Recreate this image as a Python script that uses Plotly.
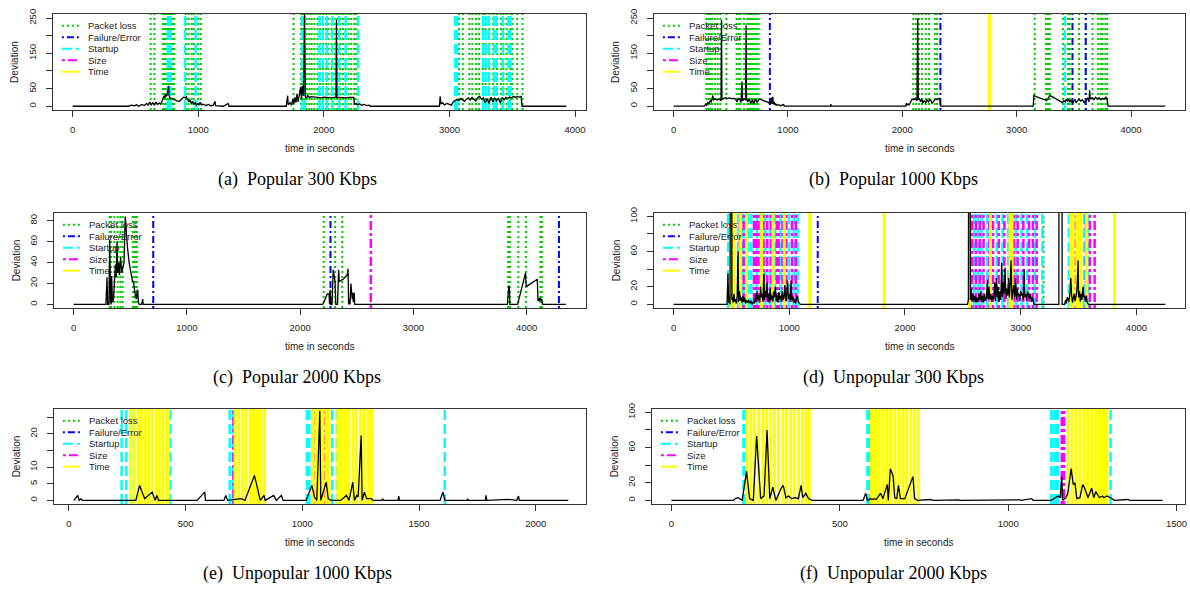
import plotly.graph_objects as go

W, H = 1190, 591

# ---------------- data ----------------
legend_labels = ["Packet loss", "Failure/Error", "Startup", "Size", "Time"]
captions = ["(a)\u00a0 Popular 300 Kbps", "(b)\u00a0 Popular 1000 Kbps", "(c)\u00a0 Popular 2000 Kbps",
            "(d)\u00a0 Unpopular 300 Kbps", "(e)\u00a0 Unpopular 1000 Kbps", "(f)\u00a0 Unpopular 2000 Kbps"]

# (a) Popular 300 Kbps
a_series = [(0,0),(300,0),(320,2),(330,0),(360,1),(380,0),(420,2),(440,0),(470,3),(490,1),(510,4),(525,0),(550,5),(570,2),
            (590,8),(600,3),(615,12),(625,4),(640,10),(650,3),(665,12),(675,5),(690,9),(700,6),(712,14),(720,22),(728,30),
            (735,24),(742,35),(750,28),(758,40),(764,58),(768,30),(775,24),(790,22),(810,18),(830,15),(850,14),(870,20),
            (885,26),(895,24),(905,27),(915,20),(925,12),(935,18),(945,8),(955,14),(965,5),(975,10),(985,4),(995,8),
            (1005,3),(1015,11),(1025,4),(1040,6),(1060,2),(1080,5),(1100,1),(1120,3),(1133,14),(1138,2),(1160,1),(1200,0),
            (1238,8),(1244,0),(1700,0),(1712,30),(1716,4),(1730,10),(1742,3),(1752,20),(1760,6),(1770,25),(1778,10),
            (1786,35),(1795,12),(1805,40),(1815,55),(1822,20),(1830,58),(1838,30),(1846,265),(1852,28),(1860,22),
            (1872,30),(1885,25),(1900,27),(1920,26),(1940,25),(1960,26),(1980,24),(2000,26),(2020,25),(2040,26),
            (2060,24),(2080,25),(2096,26),(2100,245),(2104,24),(2120,25),(2140,24),(2160,25),(2180,24),(2200,25),
            (2220,24),(2238,25),(2244,5),(2255,8),(2270,4),(2285,7),(2300,3),(2320,5),(2340,2),(2360,3),(2370,0),
            (2920,0),(2926,28),(2932,6),(2945,10),(2960,4),(2980,8),(3000,6),(3015,3),(3030,12),(3045,15),(3060,20),
            (3075,16),(3090,22),(3105,18),(3120,14),(3135,20),(3150,24),(3165,18),(3180,25),(3195,20),(3210,15),
            (3225,25),(3240,28),(3255,20),(3270,24),(3285,10),(3300,22),(3315,8),(3330,26),(3345,12),(3360,24),
            (3375,15),(3390,22),(3405,10),(3420,25),(3435,18),(3450,25),(3465,22),(3480,26),(3495,24),(3510,28),
            (3525,25),(3540,27),(3555,26),(3570,28),(3578,0),(3930,0)]
a_packet_loss = [621, 652, 718, 726, 733, 741, 748, 756, 764, 771, 779, 787, 794, 802, 809, 903, 924, 948, 964, 1000,
                 1021, 1758, 1818, 1833, 1848, 1864, 1885, 1903, 1924, 1948, 1970, 1994, 2018, 2036, 2061, 2085, 2106,
                 2130, 2152, 2173, 2197, 2218, 2242, 2258, 3076, 3106, 3158, 3182, 3212, 3236, 3267, 3288, 3318, 3348,
                 3379, 3409, 3430, 3455, 3485, 3500, 3539, 3582]
a_failure = []
a_startup = [758, 779, 894, 979, 1827, 1848, 1964, 1991, 2024, 2067, 2121, 2173, 2273, 3045, 3061, 3267, 3288, 3312,
             3355, 3373, 3424, 3470, 3485]
a_size = []
a_time = []

# (b) Popular 1000 Kbps
b_series = [(0,0),(270,0),(280,5),(290,2),(300,10),(310,6),(320,15),(330,12),(343,30),(350,18),(365,20),(380,17),
            (400,20),(415,15),(419,245),(423,18),(440,22),(455,24),(470,22),(490,23),(510,21),(530,22),(545,18),
            (555,12),(565,22),(580,18),(590,10),(598,70),(603,15),(615,20),(630,18),(634,230),(638,20),(650,12),
            (660,20),(675,8),(690,18),(700,6),(715,20),(730,10),(745,18),(760,20),(775,17),(790,15),(805,13),
            (820,11),(832,10),(840,5),(845,12),(850,8),(855,24),(860,6),(868,26),(873,5),(880,12),(888,3),(895,6),
            (905,2),(920,4),(935,1),(950,2),(962,4),(968,0),(1370,0),(1376,5),(1380,0),(2030,0),(2036,8),(2040,2),
            (2050,6),(2060,3),(2075,15),(2086,20),(2100,18),(2115,22),(2128,15),(2135,250),(2140,18),(2150,22),
            (2160,12),(2170,20),(2180,8),(2190,15),(2205,10),(2215,18),(2230,12),(2245,20),(2260,8),(2275,15),
            (2290,20),(2305,18),(2320,22),(2330,20),(2334,0),(3145,0),(3150,30),(3170,27),(3190,24),(3210,22),
            (3230,20),(3250,18),(3260,15),(3275,22),(3290,30),(3310,27),(3330,23),(3350,20),(3370,17),(3385,14),
            (3400,10),(3410,15),(3425,12),(3435,20),(3445,14),(3455,18),(3465,12),(3475,16),(3490,8),(3500,14),
            (3510,18),(3520,10),(3530,15),(3545,20),(3560,14),(3575,18),(3590,10),(3605,18),(3620,22),(3632,12),
            (3638,45),(3644,20),(3660,24),(3675,18),(3690,25),(3705,20),(3720,24),(3735,18),(3750,22),(3765,20),
            (3780,25),(3790,22),(3798,0),(4300,0)]
b_packet_loss = [287, 304, 320, 337, 363, 386, 409, 462, 551, 568, 584, 617, 644, 660, 677, 693, 710, 726, 743, 2096,
                 2119, 2145, 2172, 2205, 2234, 2284, 2304, 3158, 3257, 3274, 3290, 3406, 3449, 3465, 3545, 3604, 3663,
                 3713, 3736, 3752, 3776, 3792]
b_failure = [842, 2333, 3488, 3604]
b_startup = [3422]
b_size = []
b_time = [2762]

# (c) Popular 2000 Kbps
c_series = [(0,0),(285,0),(295,26),(300,0),(312,0),(319,62),(326,5),(331,0),(336,27),(343,2),(352,5),(360,20),
            (369,38),(376,26),(383,60),(390,30),(398,40),(405,28),(415,45),(425,30),(435,35),(445,40),(456,84),
            (463,70),(475,55),(490,40),(505,30),(515,24),(520,22),(528,22),(537,12),(545,8),(554,5),(562,14),
            (567,13),(572,2),(580,0),(600,0),(604,5),(610,5),(614,0),(2200,0),(2240,10),(2255,10),(2260,0),
            (2265,14),(2272,0),(2282,0),(2292,33),(2299,25),(2308,22),(2315,0),(2330,0),(2340,33),(2345,22),
            (2380,24),(2415,28),(2423,34),(2428,0),(2436,5),(2440,0),(2448,20),(2455,14),(2460,5),(2466,11),
            (2470,2),(2477,11),(2482,0),(3830,0),(3842,18),(3848,15),(3852,0),(3920,0),(3990,30),(3996,17),
            (4094,24),(4100,3),(4105,6),(4115,3),(4120,6),(4128,4),(4134,5),(4140,0),(4346,0)]
c_packet_loss = [318, 331, 360, 389, 413, 433, 524, 538, 550, 559, 2208, 2309, 2372, 3836, 3852, 3926, 3993, 4121, 4134]
c_failure = [703, 2268, 4285]
c_startup = []
c_size = [2624]
c_time = []

# (d) Unpopular 300 Kbps
d_series = [(0,0),(462,0),(470,35),(476,2),(482,10),(488,0),(493,400),(500,400),(504,5),(510,8),(515,2),(522,12),
            (528,3),(535,6),(542,1),(550,10),(557,60),(562,3),(570,15),(578,4),(585,8),(592,2),(600,10),(607,3),
            (615,8),(622,1),(630,5),(640,2),(650,5),(660,1),(670,4),(680,0),(690,3),(700,1),(710,12),(716,3),
            (722,15),(730,5),(738,10),(745,2),(752,20),(758,8),(765,12),(772,3),(780,35),(786,5),(792,15),(800,8),
            (808,25),(814,3),(820,12),(828,2),(835,18),(842,5),(850,10),(858,3),(865,15),(872,8),(880,20),(888,4),
            (895,10),(903,2),(910,14),(918,6),(925,10),(932,3),(940,15),(948,5),(955,8),(962,22),(970,4),(978,12),
            (985,27),(992,6),(1000,12),(1008,3),(1015,27),(1022,5),(1030,10),(1038,2),(1045,6),(1055,1),(1065,8),
            (1072,10),(1078,3),(1085,2),(1095,0),(2540,0),(2548,5),(2552,400),(2560,400),(2565,5),(2572,18),
            (2580,4),(2588,12),(2596,3),(2605,10),(2613,2),(2622,8),(2630,3),(2640,12),(2648,5),(2655,15),(2662,3),
            (2670,10),(2678,2),(2688,12),(2696,4),(2705,8),(2712,28),(2718,6),(2726,20),(2734,5),(2742,12),
            (2750,3),(2758,10),(2766,6),(2775,25),(2782,4),(2790,30),(2797,8),(2805,20),(2812,3),(2820,15),
            (2828,5),(2836,47),(2842,8),(2850,25),(2857,12),(2865,42),(2872,6),(2880,18),(2888,10),(2895,30),
            (2902,8),(2910,24),(2917,50),(2924,5),(2932,15),(2940,22),(2948,8),(2956,30),(2963,5),(2970,18),
            (2978,10),(2985,12),(2992,4),(3000,15),(3008,10),(3015,12),(3022,5),(3030,40),(3036,8),(3044,12),
            (3052,4),(3060,15),(3068,10),(3076,6),(3084,12),(3092,3),(3100,8),(3108,4),(3115,0),(3330,0),
            (3334,2000),(3354,2000),(3358,0),(3380,0),(3388,5),(3395,1),(3402,8),(3410,6),(3416,3),(3425,12),
            (3433,30),(3440,10),(3448,2),(3455,8),(3462,12),(3470,4),(3480,10),(3488,20),(3496,50),(3500,8),
            (3508,15),(3515,3),(3522,12),(3530,5),(3538,20),(3545,8),(3552,10),(3560,3),(3568,10),(3575,2),
            (3585,0),(4250,0)]
d_packet_loss = [3197]
d_failure = [1246]
d_startup = [472, 505, 557, 597, 623, 646, 672, 721, 761, 793, 833, 875, 925, 957, 997, 1039, 1072, 2564, 2597,
             2630, 2662, 2711, 2744, 2793, 2843, 2892, 2957, 3007, 3056, 3121, 3187, 3416, 3443, 3548, 3580]
d_size = [515, 570, 606, 695, 711, 734, 777, 810, 843, 892, 908, 941, 974, 1023, 1056, 2580, 2613, 2646, 2679, 2728,
          2761, 2810, 2859, 2908, 2941, 2974, 3023, 3072, 3105, 3138, 3475, 3498, 3564, 3597, 3639]
d_time = [498, 525, 574, 630, 761, 859, 957, 1177, 1820, 2557, 2738, 2908, 2925, 3430, 3452, 3485, 3505, 3521,
          3570, 3810]

# (e) Unpopular 1000 Kbps
e_series = [(21,0),(38,1.5),(44,0),(52,0.5),(57,0),(287,0),(303,4.5),(325,0.5),(357,2.5),(369,0),(377,1.5),(384,0),
            (549,0),(582,2.5),(585,0),(664,0),(672,1.5),(680,0),(738,0.5),(754,0),(795,7.5),(820,0),(836,1.5),
            (841,0),(877,1.5),(889,0),(910,1.5),(918,0),(1016,0),(1041,4.5),(1052,1),(1062,0),(1075,27),(1079,0),
            (1102,5.5),(1111,0.5),(1123,0),(1164,0),(1189,1.5),(1200,0),(1216,5.5),(1223,0),(1233,1.5),(1239,1),
            (1252,19.5),(1256,0),(1266,2.5),(1275,0.5),(1295,0.5),(1303,0),(1340,0),(1344,0.5),(1348,0),(1410,0),
            (1413,1.3),(1416,0),(1590,0),(1602,2.5),(1611,0),(1705,0),(1708,0.5),(1711,0),(1784,0),(1787,1.5),
            (1790,0),(1882,0.3),(1918,0),(1921,0.8),(1926,1.3),(1929,0),(2139,0)]
e_packet_loss = []
e_failure = []
e_startup = [226, 246, 267, 434, 689, 702, 1020, 1030, 1111, 1128, 1148, 1610]
e_size = [705, 1048, 1095]
e_time = [264, 279, 297, 310, 327, 341, 356, 374, 387, 402, 417, 426, 712, 728, 745, 759, 777, 791, 808, 823, 838,
          1044, 1058, 1073, 1086, 1101, 1114, 1152, 1168, 1185, 1199, 1217, 1231, 1249, 1263, 1281, 1296]

# (f) Unpopular 2000 Kbps
f_series = [(0,0),(184,0),(190,2),(198,3),(210,0),(223,33),(232,2),(243,0),(253,73),(265,2),(275,5),(284,80),(292,2),
            (301,15),(310,0),(326,14),(332,17),(340,3),(348,5),(357,2),(368,3),(377,2),(385,17),(390,3),(399,8),
            (407,2),(418,0),(569,0),(577,8),(582,0),(591,2),(596,1),(602,2),(608,1),(621,8),(628,2),(641,18),(644,0),
            (650,36),(658,28),(663,3),(669,2),(674,17),(680,2),(693,2),(717,27),(722,2),(730,0),(767,1),(775,0.5),
            (780,0),(853,0.5),(856,0),(1035,0.5),(1038,0),(1070,2),(1074,0),(1128,0),(1137,2),(1148,5),(1154,3),
            (1159,27),(1162,0),(1171,3),(1177,8),(1187,36),(1193,18),(1198,20),(1204,2),(1213,3),(1221,18),
            (1226,15),(1237,3),(1248,14),(1254,3),(1260,10),(1271,3),(1280,5),(1284,3),(1293,5),(1304,3),(1315,0),
            (1355,1),(1360,0),(1458,0)]
f_packet_loss = []
f_failure = []
f_startup = [214, 217, 582, 586, 1128, 1135, 1142, 1148, 1304]
f_size = [1159, 1166]
f_time = [224, 236, 247, 259, 272, 283, 295, 306, 318, 331, 342, 354, 365, 377, 389, 400, 409, 594, 606, 617, 629,
          641, 652, 664, 676, 688, 699, 711, 722, 733, 1178, 1190, 1201, 1213, 1225, 1236, 1248, 1260, 1271, 1283, 1293]

x_ticks_4000 = [0, 1000, 2000, 3000, 4000]
x_ticks_e = [0, 500, 1000, 1500, 2000]
x_ticks_f = [0, 500, 1000, 1500]
y_ticks_250 = ([0, 50, 100, 150, 200, 250], ["0", "50", "", "150", "", "250"])
y_ticks_80 = ([0, 20, 40, 60, 80], ["0", "20", "40", "60", "80"])
y_ticks_100 = ([0, 20, 40, 60, 80, 100], ["0", "20", "", "60", "", "100"])
y_ticks_e = ([0, 5, 10, 15, 20, 25], ["0", "5", "10", "", "20", ""])

# ---------------- styles / layout ----------------
panels = [
    dict(series=a_series, ev=[a_packet_loss, a_failure, a_startup, a_size, a_time],
         frame=(53, 587, 8, 105), xr=[-157, 4087], yr=[-10.5, 262], xt=x_ticks_4000, yt=y_ticks_250),
    dict(series=b_series, ev=[b_packet_loss, b_failure, b_startup, b_size, b_time],
         frame=(655, 1187, 8, 105), xr=[-172, 4472], yr=[-11, 262], xt=x_ticks_4000, yt=y_ticks_250),
    dict(series=c_series, ev=[c_packet_loss, c_failure, c_startup, c_size, c_time],
         frame=(54, 587, 209, 305), xr=[-174, 4524], yr=[-3.36, 87.4], xt=x_ticks_4000, yt=y_ticks_80),
    dict(series=d_series, ev=[d_packet_loss, d_failure, d_startup, d_size, d_time],
         frame=(655, 1187, 209, 305), xr=[-170, 4420], yr=[-4, 104], xt=x_ticks_4000, yt=y_ticks_100),
    dict(series=e_series, ev=[e_packet_loss, e_failure, e_startup, e_size, e_time],
         frame=(54, 587, 407, 503), xr=[-64, 2215], yr=[-1.06, 27.56], xt=x_ticks_e, yt=y_ticks_e),
    dict(series=f_series, ev=[f_packet_loss, f_failure, f_startup, f_size, f_time],
         frame=(653, 1187, 407, 503), xr=[-58, 1525], yr=[-4, 104], xt=x_ticks_f, yt=y_ticks_100),
]

ev_styles = [
    dict(color="#00CD00", dash="2px,3px", width=2),
    dict(color="#0000FF", dash="2px,3px,7px,3px", width=2),
    dict(color="#00FFFF", dash="10px,4px", width=2.5),
    dict(color="#FF00FF", dash="3px,3px,9px,3px", width=2.5),
    dict(color="#FFFF00", dash="solid", width=3),
]

SANS = "Liberation Sans, Arial, sans-serif"
SERIF = "Liberation Serif, Times New Roman, serif"
AX = "#333333"

def px_x(p):
    return p / W

def px_y(p):
    return 1 - p / H

fig = go.Figure()
layout = dict(width=W, height=H, margin=dict(l=0, r=0, t=0, b=0), paper_bgcolor="white",
              plot_bgcolor="white", showlegend=False)
shapes = []
annotations = []

for i, p in enumerate(panels):
    n = "" if i == 0 else str(i + 1)
    xa, ya = "x" + n, "y" + n
    x0, x1, y0, y1 = p["frame"]
    lo, hi = p["yr"]
    for evs, st in zip(p["ev"], ev_styles):
        if not evs:
            continue
        xs, ys = [], []
        for t in evs:
            xs += [t, t, None]
            ys += [lo, hi, None]
        fig.add_trace(go.Scatter(x=xs, y=ys, mode="lines", xaxis=xa, yaxis=ya, hoverinfo="skip",
                                 line=dict(color=st["color"], dash=st["dash"], width=st["width"])))
    ts = [s[0] for s in p["series"]]
    vs = [s[1] for s in p["series"]]
    fig.add_trace(go.Scatter(x=ts, y=vs, mode="lines", xaxis=xa, yaxis=ya,
                             line=dict(color="black", width=1.3)))
    layout["xaxis" + n] = dict(domain=[px_x(x0), px_x(x1)], range=p["xr"], anchor=ya, showgrid=False,
                               zeroline=False, showline=True, mirror=True, linecolor=AX, linewidth=1.3,
                               ticks="outside", ticklen=6, tickcolor=AX, tickvals=p["xt"],
                               ticktext=[str(v) for v in p["xt"]], ticklabelstandoff=5,
                               tickfont=dict(family=SANS, size=9.5, color="#222"))
    layout["yaxis" + n] = dict(domain=[px_y(y1), px_y(y0)], range=p["yr"], anchor=xa, showgrid=False,
                               zeroline=False, showline=True, mirror=True, linecolor=AX, linewidth=1.3,
                               ticks="outside", ticklen=6, tickcolor=AX, tickvals=p["yt"][0],
                               ticktext=p["yt"][1], tickangle=-90, ticklabelstandoff=6,
                               tickfont=dict(family=SANS, size=9.5, color="#222"))
    # legend (R style, no box)
    for k, (lab, st) in enumerate(zip(legend_labels, ev_styles)):
        yy = y0 + 12 + k * 11.6
        shapes.append(dict(type="line", xref="paper", yref="paper", x0=px_x(x0 + 9), x1=px_x(x0 + 26),
                           y0=px_y(yy), y1=px_y(yy),
                           line=dict(color=st["color"], dash=st["dash"], width=2)))
        annotations.append(dict(xref="paper", yref="paper", x=px_x(x0 + 33), y=px_y(yy), text=lab,
                                showarrow=False, xanchor="left", yanchor="middle",
                                font=dict(family=SANS, size=9.5, color="#222")))
    # axis titles
    annotations.append(dict(xref="paper", yref="paper", x=px_x((x0 + x1) / 2), y=px_y(y1 + 39),
                            text="time in seconds", showarrow=False, xanchor="center", yanchor="middle",
                            font=dict(family=SANS, size=10, color="#222")))
    annotations.append(dict(xref="paper", yref="paper", x=px_x(x0 - 38), y=px_y((y0 + y1) / 2),
                            text="Deviation", showarrow=False, textangle=-90, xanchor="center",
                            yanchor="middle", font=dict(family=SANS, size=10, color="#222")))
    # caption
    cx = 298 if x0 < 300 else 895
    annotations.append(dict(xref="paper", yref="paper", x=px_x(cx), y=px_y(y1 + 70),
                            text=captions[i], showarrow=False, xanchor="center", yanchor="middle",
                            font=dict(family=SERIF, size=18, color="black")))

layout["shapes"] = shapes
layout["annotations"] = annotations
fig.update_layout(**layout)
fig.write_html("out.html")
